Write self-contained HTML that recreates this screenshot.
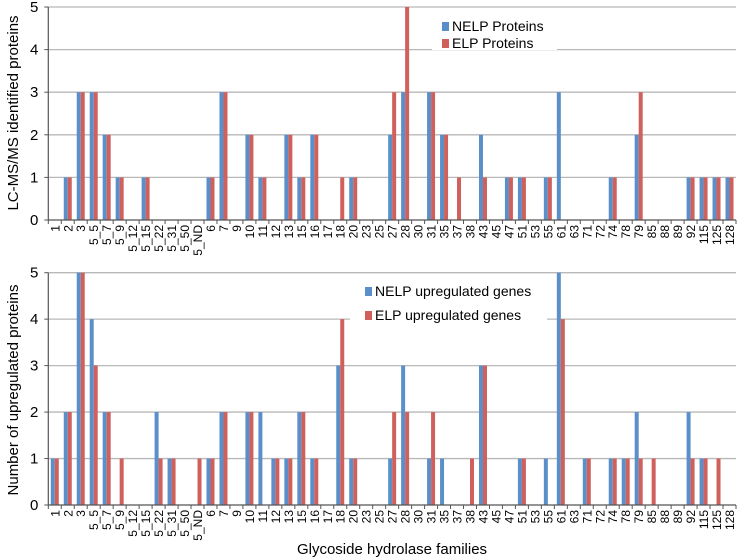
<!DOCTYPE html>
<html><head><meta charset="utf-8"><style>
body{margin:0;background:#fff}
svg{display:block;font-family:"Liberation Sans",sans-serif}
</style></head><body>
<svg id="c" width="740" height="560"></svg>
<script>
const categories=["1","2","3","5_5","5_7","5_9","5_12","5_15","5_22","5_31","5_50","5_ND","6","7","9","10","11","12","13","15","16","17","18","20","23","25","27","28","30","31","35","37","38","43","45","47","51","53","55","61","63","71","72","74","78","79","85","88","89","92","115","125","128"];
const nelpProteins=[0,1,3,3,2,1,0,1,0,0,0,0,1,3,0,2,1,0,2,1,2,0,0,1,0,0,2,3,0,3,2,0,0,2,0,1,1,0,1,3,0,0,0,1,0,2,0,0,0,1,1,1,1];
const elpProteins=[0,1,3,3,2,1,0,1,0,0,0,0,1,3,0,2,1,0,2,1,2,0,1,1,0,0,3,5,0,3,2,1,0,1,0,1,1,0,1,0,0,0,0,1,0,3,0,0,0,1,1,1,1];
const nelpGenes=[1,2,5,4,2,0,0,0,2,1,0,0,1,2,0,2,2,1,1,2,1,0,3,1,0,0,1,3,0,1,1,0,0,3,0,0,1,0,1,5,0,1,0,1,1,2,0,0,0,2,1,0,0];
const elpGenes=[1,2,5,3,2,1,0,0,1,1,0,1,1,2,0,2,0,1,1,2,1,0,4,1,0,0,2,2,0,2,0,0,1,3,0,0,1,0,0,4,0,1,0,1,1,1,1,0,0,1,1,1,0];
const yTicks=[0,1,2,3,4,5];
const NS="http://www.w3.org/2000/svg";
const svg=document.getElementById('c');
const BLUE='#5b8fca',RED='#cf605c';
function mk(t,a,txt){const e=document.createElementNS(NS,t);for(const k in a)e.setAttribute(k,a[k]);if(txt!==undefined)e.textContent=txt;svg.appendChild(e);return e;}
const X0=48.3,X1=736,step=(X1-X0)/categories.length;
function xs(i){return X0+i*step;}
function panel(p,y0,y5,s1,s2,n1,n2,leg){
  const ys=v=>y0-(y0-y5)*v/5;
  yTicks.forEach(t=>{
    if(t>0){const g=mk('line',{x1:X0,x2:X1,y1:ys(t),y2:ys(t),stroke:'#b8b8b8','stroke-width':1.3});
    
    }
    const l=mk('text',{x:X0-10,y:ys(t)+5,'text-anchor':'end','font-size':15,fill:'#000'},t);
    
    
    mk('line',{x1:X0-4,x2:X0,y1:ys(t),y2:ys(t),stroke:'#555'});
  });
  const lb=mk('rect',{x:leg.bx,y:leg.by,width:leg.bw,height:leg.bh,fill:'#fff'});
  
  
  [[n1,BLUE,0],[n2,RED,1]].forEach(([nm,col,k])=>{
    mk('rect',{x:leg.x,y:leg.y+k*leg.dy-9,width:7,height:9,fill:col});
    const t=mk('text',{x:leg.x+10,y:leg.y+k*leg.dy,'font-size':14,fill:'#000'},nm);
    
    
  });
  categories.forEach((c,i)=>{
    const cx=xs(i)+step/2;
    const b1=mk('rect',{x:cx-4,y:ys(s1[i]),width:4,height:y0-ys(s1[i]),fill:BLUE});
    
    
    const b2=mk('rect',{x:cx,y:ys(s2[i]),width:4,height:y0-ys(s2[i]),fill:RED});
    
    
    mk('line',{x1:xs(i),x2:xs(i),y1:y0,y2:y0+4,stroke:'#555'});
    const t=mk('text',{x:0,y:0,'text-anchor':'end','font-size':12,fill:'#000',transform:`translate(${cx+4.5},${y0+5}) rotate(-90)`},c);
    
    
  });
  mk('line',{x1:X1,x2:X1,y1:y0,y2:y0+4,stroke:'#555'});
  mk('line',{x1:X0,x2:X1,y1:y0,y2:y0,stroke:'#555','stroke-width':1.2});
  mk('line',{x1:X0,x2:X0,y1:y5,y2:y0,stroke:'#555','stroke-width':1.2});
}
panel('top',220,7,nelpProteins,elpProteins,'NELP Proteins','ELP Proteins',{bx:432,by:12,bw:125,bh:38,x:442,y:31,dy:17});
panel('bottom',505,272.7,nelpGenes,elpGenes,'NELP upregulated genes','ELP upregulated genes',{bx:350,by:280,bw:197,bh:46,x:365,y:296,dy:24});
let t=mk('text',{transform:'translate(18,113) rotate(-90)','text-anchor':'middle','font-size':15,fill:'#000'},'LC-MS/MS identified proteins');


t=mk('text',{transform:'translate(18,390) rotate(-90)','text-anchor':'middle','font-size':15,fill:'#000'},'Number of upregulated proteins');


t=mk('text',{x:392,y:554,'text-anchor':'middle','font-size':15,fill:'#000'},'Glycoside hydrolase families');


</script>
</body></html>
